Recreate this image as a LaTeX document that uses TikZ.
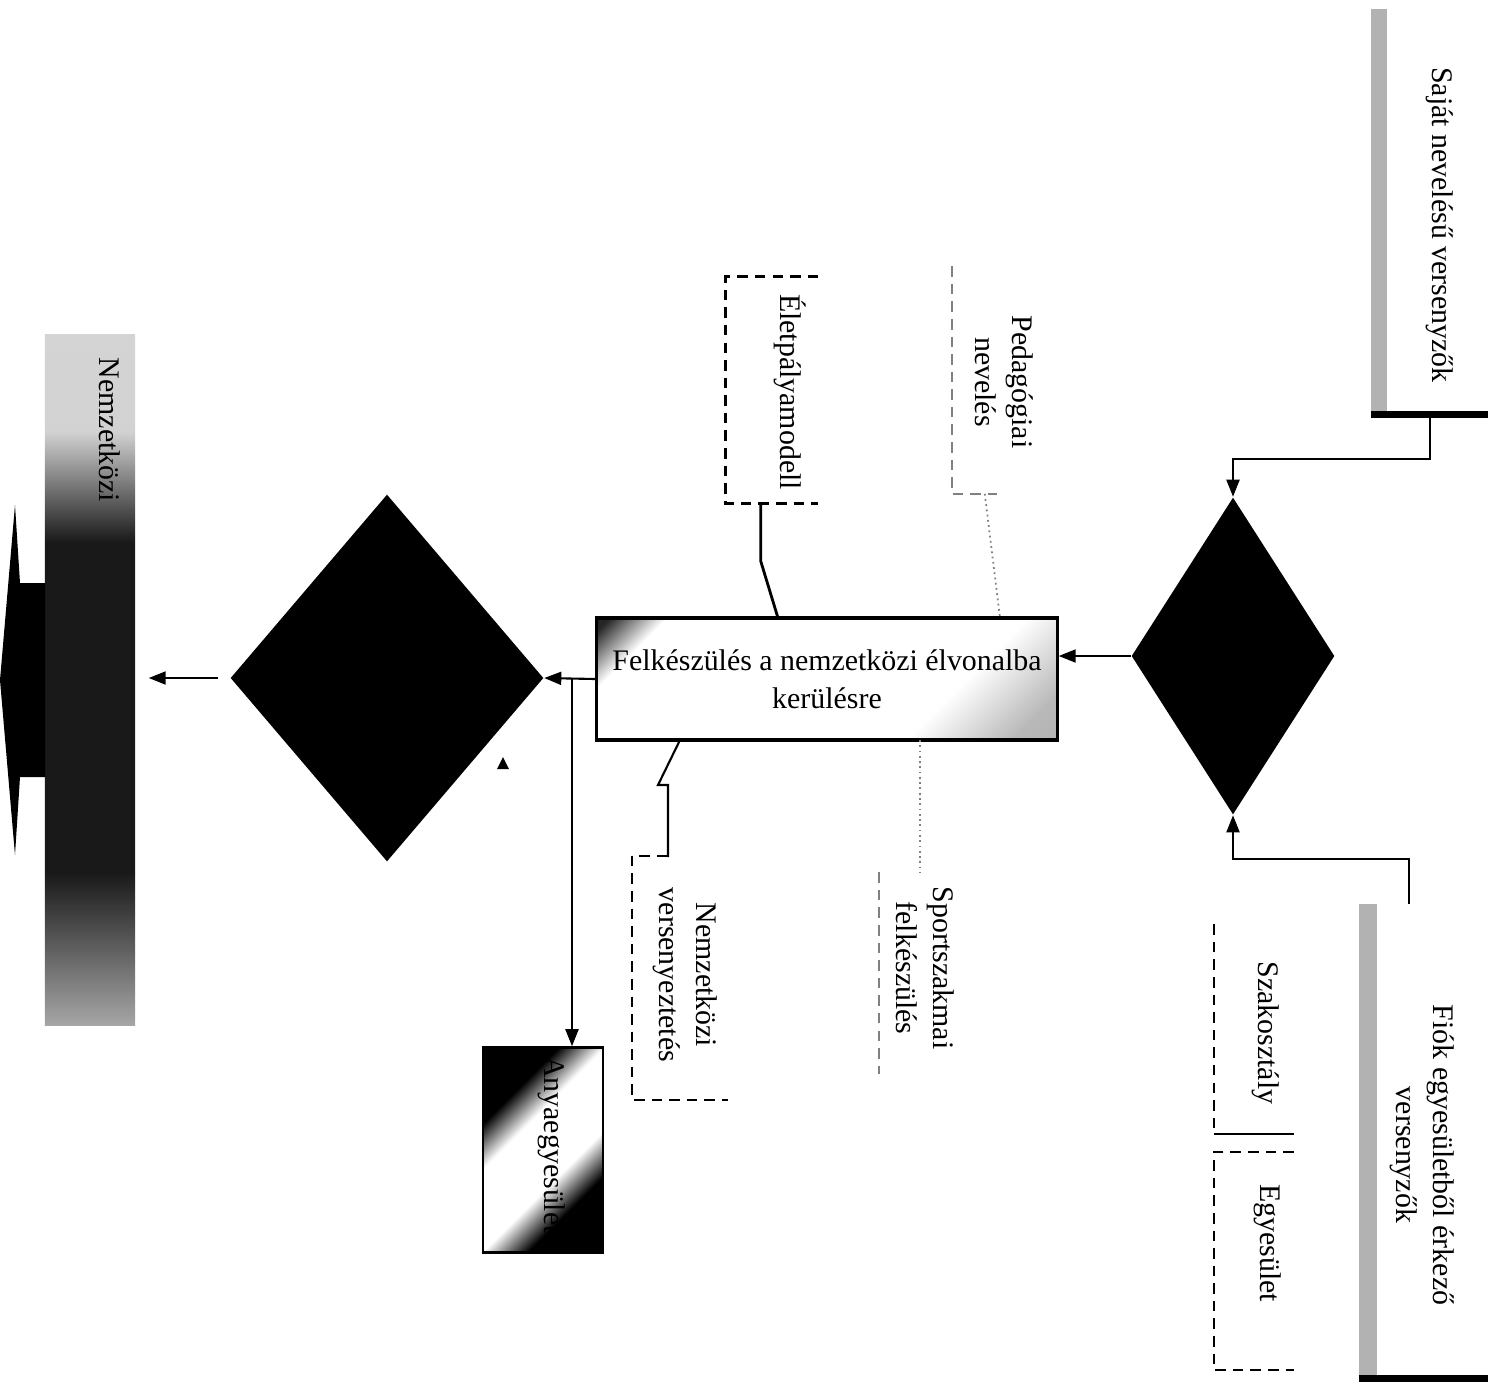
\documentclass[tikz,border=0pt]{standalone}
\usepackage{fontspec}
\setmainfont{Liberation Serif}
\usetikzlibrary{arrows.meta}
\usetikzlibrary{shapes.geometric}

\pgfdeclarehorizontalshading{felkshade}{100bp}{color(0bp)=(black); color(16bp)=(black!85); color(23bp)=(white); color(67bp)=(white); color(80bp)=(gray!55); color(100bp)=(gray!70)}
\pgfdeclarehorizontalshading{anyashade}{100bp}{color(0bp)=(black); color(31bp)=(black); color(41bp)=(white); color(59bp)=(white); color(69bp)=(black); color(100bp)=(black)}
\pgfdeclareverticalshading{nemshade}{100bp}{color(0bp)=(gray!70); color(25bp)=(gray!70); color(36bp)=(black!90); color(60bp)=(black!90); color(68bp)=(gray!35); color(100bp)=(gray!30)}

\tikzset{
  arr/.style={-{Triangle[length=1.7mm,width=1.3mm]}, line width=0.6pt},
  blackdia/.style={diamond, fill=black, inner sep=0pt},
  frame/.style={rectangle, inner sep=0pt},
  txt/.style={rotate=-90, align=center, font=\fontsize{8.5}{10.5}\selectfont},
  openedge/.style={densely dashed, line width=0.6pt},
  faint/.style={densely dotted, gray, line width=0.5pt}
}

\begin{document}
\begin{tikzpicture}[x=0.01cm, y=-0.01cm]
  \useasboundingbox (0,0) rectangle (1488,1381);

  \node[frame, minimum width=1.16cm, minimum height=4.04cm] (sajat) at (1430,212) {};
  \fill[gray!60] (sajat.north west) rectangle ++(16,404);
  \draw[line width=2pt] (sajat.south west) -- (sajat.south east);
  \node[txt] (sajattxt) at (1440,225) {Saját nevelésű versenyzők};

  \node[frame, minimum width=1.28cm, minimum height=4.73cm] (fiok) at (1424,1141) {};
  \fill[gray!60] (fiok.north west) rectangle ++(18,473);
  \draw[line width=2pt] (fiok.south west) -- (fiok.south east);
  \node[txt] (fioktxt) at (1422,1155) {Fiók egyesületből érkező\\versenyzők};

  \node[frame, minimum width=0.78cm, minimum height=2.08cm] (szak) at (1254,1029) {};
  \draw[openedge] (szak.north west) -- (szak.south west);
  \draw[line width=0.6pt] (szak.south west) -- (szak.south east);
  \node[txt] (szaktxt) at (1266,1033) {Szakosztály};
  \node[frame, minimum width=0.78cm, minimum height=2.17cm] (egy) at (1254,1261) {};
  \draw[openedge] (egy.north east) -- (egy.north west) -- (egy.south west) -- (egy.south east);
  \node[txt] (egytxt) at (1268,1243) {Egyesület};

  \node[blackdia, minimum width=2.03cm, minimum height=3.17cm] (rdia) at (1233,656) {};
  \node[blackdia, minimum width=3.13cm, minimum height=3.67cm] (ldia) at (387,678) {};

  \node[draw, line width=0.9pt, shade, shading=felkshade, shading angle=-45,
        minimum width=4.6cm, minimum height=1.22cm, align=center,
        font=\fontsize{8.5}{10.8}\selectfont] (felk) at (827,679)
        {Felkészülés a nemzetközi élvonalba\\kerülésre};

  \node[frame, minimum width=0.91cm, minimum height=2.25cm] (elet) at (772,390) {};
  \draw[openedge, line width=0.8pt] (elet.north east) -- (elet.north west) -- (elet.south west) -- (elet.south east);
  \node[txt] (elettxt) at (790,392) {Életpályamodell};
  \coordinate (eletin) at (778,618);
  \draw[line width=0.8pt] (elet.south west) ++(35,0) -- ++(0,58) -- (eletin);

  \node[frame, minimum width=0.87cm, minimum height=2.26cm] (ped) at (996,380) {};
  \draw[openedge, gray] (ped.north west) -- (ped.south west) -- ++(45,0);
  \node[txt] (pedtxt) at (1004,382) {Pedagógiai\\nevelés};
  \coordinate (pedin) at (1000,618);
  \draw[faint] (ped.south west) ++(33,0) -- (pedin);

  \node[frame, minimum width=0.8cm, minimum height=2.0cm] (sport) at (920,973) {};
  \draw[openedge, gray] (sport.north west) -- (sport.south west);
  \node[txt] (sporttxt) at (925,968) {Sportszakmai\\felkészülés};
  \coordinate (sportout) at (920,740);
  \draw[faint] (sportout) -- (sport.north);

  \node[frame, minimum width=0.94cm, minimum height=2.43cm] (ver) at (680,978) {};
  \draw[openedge] (ver.north west) ++(35,0) -- (ver.north west) -- (ver.south west) -- (ver.south east);
  \node[txt] (vertxt) at (685,975) {Nemzetközi\\versenyeztetés};
  \coordinate (verout) at (680,740);
  \draw[line width=0.6pt] (verout) -- ++(-22,45) -- ++(10,0) -- ++(0,72);

  \node[draw, line width=0.7pt, shade, shading=anyashade, shading angle=-45,
        minimum width=1.2cm, minimum height=2.05cm] (anya) at (543,1150) {};
  \node[txt] (anyatxt) at (552,1145) {Anyaegyesület};

  \node[frame, shade, shading=nemshade, minimum width=0.9cm, minimum height=6.9cm] (nem) at (90,680) {};
  \fill (45,583) -- (20,583) -- (15,505) -- (0,680) -- (15,855) -- (20,777) -- (45,777) -- cycle;
  \node[txt] (nemtxt) at (110,430) {Nemzetközi};

  \draw[arr] (sajat.south) -- ++(0,44) -| (rdia.north);
  \draw[arr] (fiok.north west) ++(50,0) -- ++(0,-45) -| (rdia.south);
  \draw[arr] (rdia.west) -- (rdia.west -| felk.east);
  \draw[arr] (felk.west) -- (ldia.east);
  \coordinate (split) at (572,679);
  \draw[arr] (split) -- (split |- anya.north);
  \draw[arr, shorten <=0.12cm, shorten >=0.13cm] (ldia.west) -- (ldia.west -| nem.east);
  \fill (497,769) -- (503,757) -- (509,769) -- cycle;
\end{tikzpicture}
\end{document}
